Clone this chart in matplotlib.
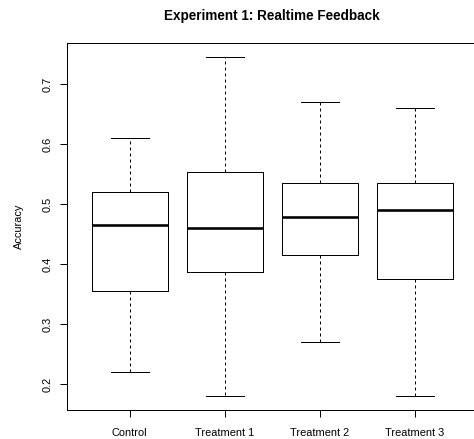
import matplotlib
matplotlib.use("Agg")
import matplotlib.pyplot as plt

groups = ["Control", "Treatment 1", "Treatment 2", "Treatment 3"]
whisker_low = [0.22, 0.18, 0.27, 0.18]
q1 = [0.355, 0.387, 0.416, 0.375]
median = [0.465, 0.460, 0.479, 0.490]
q3 = [0.521, 0.553, 0.535, 0.535]
whisker_high = [0.610, 0.746, 0.670, 0.660]

plt.rcParams["font.family"] = ["Liberation Sans", "DejaVu Sans"]

DPI = 72
fig = plt.figure(figsize=(474 / DPI, 439 / DPI), dpi=DPI)
W, H = 474, 439
# plot region in pixels (right edge runs past the canvas, like the source)
left, right, top, bottom = 67, 477.4, 43, 410
ax = fig.add_axes([left / W, 1 - bottom / H, (right - left) / W, (bottom - top) / H])

stats = [
    dict(whislo=lo, q1=a, med=m, q3=b, whishi=hi, fliers=[])
    for lo, a, m, b, hi in zip(whisker_low, q1, median, q3, whisker_high)
]
pos = list(range(1, len(groups) + 1))
ax.bxp(
    stats,
    positions=pos,
    widths=0.8,
    capwidths=0.4,
    showfliers=False,
    boxprops=dict(color="black", linewidth=1),
    medianprops=dict(color="black", linewidth=2.6, solid_capstyle="butt"),
    whiskerprops=dict(color="black", linewidth=1, linestyle=(0, (3, 3))),
    capprops=dict(color="black", linewidth=1),
)

# R-style 4% padding on both axes
n = len(groups)
ax.set_xlim(0.5 - 0.16, n + 0.5 + 0.16)
lo, hi = min(whisker_low), max(whisker_high)
pad = 0.04 * (hi - lo)
ax.set_ylim(lo - pad, hi + pad)

ax.set_xticks(pos)
ax.set_xticklabels(groups, fontsize=11)
ax.set_yticks([0.2, 0.3, 0.4, 0.5, 0.6, 0.7])
ax.set_yticklabels(["0.2", "0.3", "0.4", "0.5", "0.6", "0.7"], fontsize=11,
                   rotation=90, va="center")
ax.tick_params(axis="both", length=7, width=1, color="black")
ax.tick_params(axis="y", pad=7)
ax.tick_params(axis="x", pad=11)

for s in ax.spines.values():
    s.set_linewidth(1)
    s.set_color("black")

ax.set_ylabel("Accuracy", fontsize=11)
ax.yaxis.set_label_coords((24 - left) / (right - left), 0.5)
ax.set_title("Experiment 1: Realtime Feedback", fontsize=13.5,
             fontweight="bold", pad=23)

fig.savefig("out.png", dpi=DPI)
